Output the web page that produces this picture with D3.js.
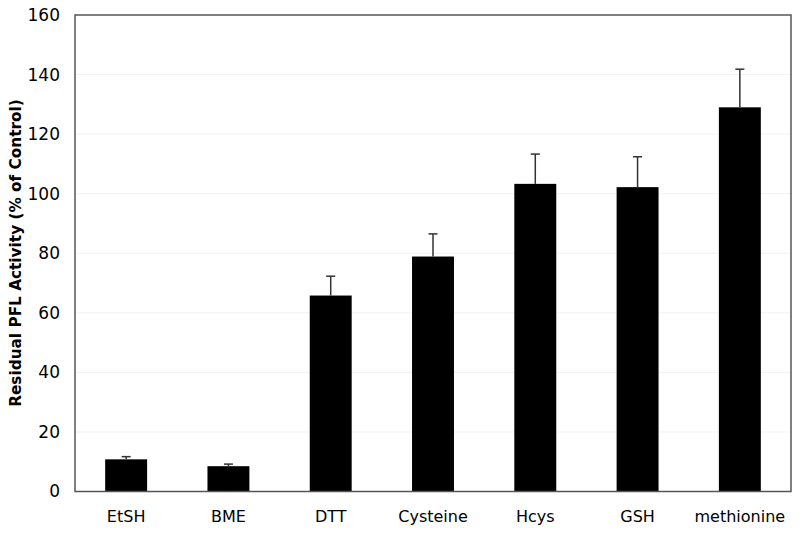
<!DOCTYPE html>
<html>
<head>
<meta charset="utf-8">
<script src="https://cdn.jsdelivr.net/npm/d3@7"></script>
<style>
  body { margin: 0; background: #fff; }
  svg { display: block; }
</style>
</head>
<body>
<svg id="chart" width="800" height="533"></svg>
<script>
const categories = ["EtSH", "BME", "DTT", "Cysteine", "Hcys", "GSH", "methionine"];
const values = [10.8, 8.5, 65.8, 78.9, 103.3, 102.2, 129.0];
const errors = [0.9, 0.7, 6.5, 7.6, 10.0, 10.2, 12.8];
const yTicks = [0, 20, 40, 60, 80, 100, 120, 140, 160];
const yTitle = "Residual PFL Activity (% of Control)";

(function () {
const svg = d3.select("#chart");
const mLeft = 75, mRight = 791, mTop = 15, mBottom = 491.5;
const font = "'DejaVu Sans', Verdana, sans-serif";

const x = d3.scaleBand().domain(categories).range([mLeft, mRight]).padding(0);
const y = d3.scaleLinear().domain([0, 160]).range([mBottom, mTop]);
const barW = x.bandwidth() * 0.41;

// faint gridlines
svg.append("g").selectAll("line").data(yTicks.filter(d => d > 0 && d < 160)).join("line")
  .attr("x1", mLeft).attr("x2", mRight)
  .attr("y1", d => y(d)).attr("y2", d => y(d))
  .attr("stroke", "#f2f2f2").attr("stroke-width", 1);

// bars
svg.append("g").selectAll("rect").data(categories).join("rect")
  .attr("x", d => x(d) + (x.bandwidth() - barW) / 2)
  .attr("width", barW)
  .attr("y", (d, i) => y(values[i]))
  .attr("height", (d, i) => y(0) - y(values[i]))
  .attr("fill", "#000");

// error bars (upper only)
const eg = svg.append("g").attr("stroke", "#333").attr("stroke-width", 1.5);
categories.forEach((c, i) => {
  const cx = x(c) + x.bandwidth() / 2;
  eg.append("line").attr("x1", cx).attr("x2", cx)
    .attr("y1", y(values[i])).attr("y2", y(values[i] + errors[i]));
  eg.append("line").attr("x1", cx - 4.5).attr("x2", cx + 4.5)
    .attr("y1", y(values[i] + errors[i])).attr("y2", y(values[i] + errors[i]));
});

// frame
svg.append("rect").attr("x", mLeft).attr("y", mTop)
  .attr("width", mRight - mLeft).attr("height", mBottom - mTop)
  .attr("fill", "none").attr("stroke", "#555").attr("stroke-width", 1.5);

// y axis labels
const yAxis = d3.axisLeft(y).tickValues(yTicks).tickSize(0).tickPadding(15);
const ya = svg.append("g").attr("transform", `translate(${mLeft},0)`).call(yAxis);
ya.select(".domain").remove();
ya.selectAll("text").attr("font-family", font).attr("font-size", 17).attr("fill", "#000");

// x axis labels
const xAxis = d3.axisBottom(x).tickSize(0).tickPadding(19);
const xa = svg.append("g").attr("transform", `translate(0,${mBottom})`).call(xAxis);
xa.select(".domain").remove();
xa.selectAll("text").attr("font-family", font).attr("font-size", 16).attr("fill", "#000");

// y title
svg.append("text")
  .attr("transform", `translate(21,253) rotate(-90)`)
  .attr("text-anchor", "middle")
  .attr("font-family", font).attr("font-size", 15.3).attr("font-weight", "bold")
  .text(yTitle);
})();
</script>
</body>
</html>
